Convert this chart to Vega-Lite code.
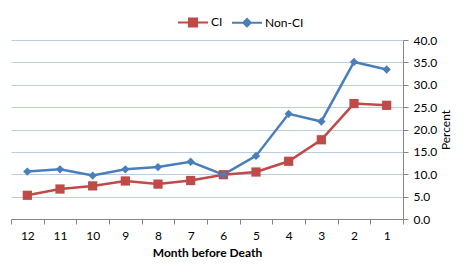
{
  "$schema": "https://vega.github.io/schema/vega-lite/v6.json",
  "width": 392,
  "height": 179,
  "autosize": {"type": "none"},
  "padding": {"left": 11, "top": 40, "right": 65, "bottom": 51},
  "background": "white",
  "config": {
    "view": {"stroke": null},
    "font": "Lato",
    "axis": {"labelFont": "Lato", "titleFont": "Lato", "labelColor": "#000000", "titleColor": "#000000"}
  },
  "data": {
    "values": [
      {"month": 12, "series": "CI", "pct": 5.3},
      {"month": 11, "series": "CI", "pct": 6.7},
      {"month": 10, "series": "CI", "pct": 7.4},
      {"month": 9, "series": "CI", "pct": 8.5},
      {"month": 8, "series": "CI", "pct": 7.8},
      {"month": 7, "series": "CI", "pct": 8.6},
      {"month": 6, "series": "CI", "pct": 9.9},
      {"month": 5, "series": "CI", "pct": 10.5},
      {"month": 4, "series": "CI", "pct": 12.9},
      {"month": 3, "series": "CI", "pct": 17.7},
      {"month": 2, "series": "CI", "pct": 25.8},
      {"month": 1, "series": "CI", "pct": 25.4},
      {"month": 12, "series": "Non-CI", "pct": 10.6},
      {"month": 11, "series": "Non-CI", "pct": 11.1},
      {"month": 10, "series": "Non-CI", "pct": 9.7},
      {"month": 9, "series": "Non-CI", "pct": 11.1},
      {"month": 8, "series": "Non-CI", "pct": 11.6},
      {"month": 7, "series": "Non-CI", "pct": 12.8},
      {"month": 6, "series": "Non-CI", "pct": 9.9},
      {"month": 5, "series": "Non-CI", "pct": 14.1},
      {"month": 4, "series": "Non-CI", "pct": 23.5},
      {"month": 3, "series": "Non-CI", "pct": 21.8},
      {"month": 2, "series": "Non-CI", "pct": 35.1},
      {"month": 1, "series": "Non-CI", "pct": 33.4}
    ]
  },
  "encoding": {
    "x": {
      "field": "month", "type": "ordinal", "sort": "descending",
      "scale": {"type": "band", "paddingInner": 0, "paddingOuter": 0},
      "axis": {
        "title": "Month before Death", "titleFontSize": 12, "titleFontWeight": "bold", "titlePadding": 6,
        "labelAngle": 0, "labelFontSize": 12, "labelPadding": 6,
        "tickBand": "extent", "tickSize": 5, "tickColor": "#868686", "domainColor": "#868686",
        "grid": false
      }
    },
    "y": {
      "field": "pct", "type": "quantitative",
      "scale": {"domain": [0, 40]},
      "axis": {
        "orient": "right", "title": "Percent", "titleFontSize": 12, "titleFontWeight": "normal", "titleAngle": -90, "titleBaseline": "top", "titlePadding": 4,
        "values": [0, 5, 10, 15, 20, 25, 30, 35, 40], "format": ".1f",
        "labelFontSize": 12, "labelPadding": 5, "tickSize": 5, "tickColor": "#868686", "domainColor": "#868686",
        "grid": true, "gridColor": "#B9CDE5", "gridWidth": 1
      }
    },
    "color": {
      "field": "series", "type": "nominal",
      "scale": {"domain": ["CI", "Non-CI"], "range": ["#BE4B48", "#4A7EBB"]},
      "legend": {
        "orient": "none", "legendX": 166, "legendY": -34, "direction": "horizontal", "title": null,
        "labelFontSize": 12, "labelFont": "Lato", "symbolSize": 900, "columnPadding": 5, "labelOffset": 2,
        "encode": {
          "symbols": {
            "update": {
              "shape": {"signal": "datum.value === 'CI' ? 'M-1,0H1M-0.27,-0.27H0.27V0.27H-0.27Z' : 'M-1,0H1M0,-0.25L0.25,0L0,0.25L-0.25,0Z'"},
              "stroke": {"signal": "datum.value === 'CI' ? '#BE4B48' : '#4A7EBB'"},
              "fill": {"signal": "datum.value === 'CI' ? '#BE4B48' : '#4A7EBB'"},
              "strokeWidth": {"value": 2},
              "opacity": {"value": 1}
            }
          }
        }
      }
    }
  },
  "layer": [
    {"mark": {"type": "line", "strokeWidth": 2.5}},
    {
      "transform": [{"filter": "datum.series === 'CI'"}],
      "mark": {"type": "point", "filled": true, "opacity": 1, "shape": "square", "size": 85}
    },
    {
      "transform": [{"filter": "datum.series === 'Non-CI'"}],
      "mark": {"type": "point", "filled": true, "opacity": 1, "shape": "diamond", "size": 70}
    }
  ]
}
